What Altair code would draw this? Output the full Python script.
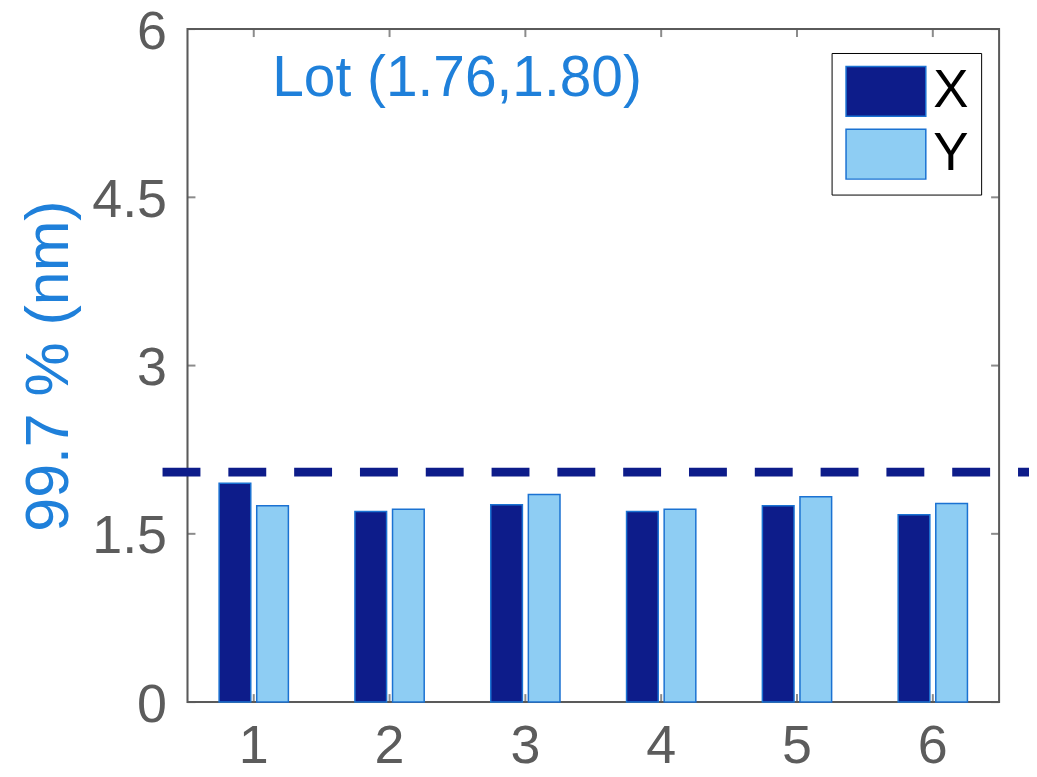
import altair as alt
import pandas as pd

categories = ["1", "2", "3", "4", "5", "6"]
x_values = [1.95, 1.70, 1.76, 1.70, 1.75, 1.67]
y_values = [1.75, 1.72, 1.85, 1.72, 1.83, 1.77]
series_names = ["X", "Y"]
limit_value = 2.05
y_ticks = [0, 1.5, 3, 4.5, 6]
annotation = "Lot (1.76,1.80)"
y_title = "99.7 % (nm)"

rows = []
for c, xv, yv in zip(categories, x_values, y_values):
    rows.append({"cat": c, "series": "X", "value": xv})
    rows.append({"cat": c, "series": "Y", "value": yv})
df = pd.DataFrame(rows)

FONT = "Liberation Sans"
NAVY = "#0d1c8a"
LIGHT = "#8ecdf3"
EDGE = "#1b72d2"
BLUE_TXT = "#1f80da"
GRAY = "#5c5c5c"
BOX = "#5a5a5a"
W, H = 814, 675

xscale = alt.Scale(domain=categories, paddingInner=0.49, paddingOuter=0.233)
yscale = alt.Scale(domain=[0, 6], nice=False)

frame = alt.Chart(pd.DataFrame({"f": [0]})).mark_rect(
    fill="white", fillOpacity=0, stroke=BOX, strokeWidth=2
).encode(x=alt.value(0), x2=alt.value(W), y=alt.value(0), y2=alt.value(H))

bars = alt.Chart(df).mark_bar(stroke=EDGE, strokeWidth=1.5).encode(
    x=alt.X("cat:N", scale=xscale, sort=categories,
            axis=alt.Axis(title=None, labelAngle=0, labelFontSize=54, labelFont=FONT,
                          labelColor=GRAY, ticks=False, domain=False, labelPadding=18)),
    xOffset=alt.XOffset("series:N", scale=alt.Scale(domain=series_names, paddingInner=0.158, paddingOuter=0)),
    y=alt.Y("value:Q", scale=yscale,
            axis=alt.Axis(title=y_title, values=y_ticks, format="~g", grid=False, ticks=False,
                          domain=False, labelFontSize=54, labelFont=FONT, labelColor=GRAY,
                          labelPadding=21, labelOffset=3, titleFontSize=61, titleFont=FONT,
                          titleColor=BLUE_TXT, titleFontWeight="normal", titleX=-138,
                          titleY=H / 2, titleBaseline="middle", titleAlign="center")),
    fill=alt.Fill("series:N", scale=alt.Scale(domain=series_names, range=[NAVY, LIGHT]),
                  legend=alt.Legend(title=None, orient="none", legendX=646, legendY=24,
                                    symbolType="M-1.6,-1L1.6,-1L1.6,1L-1.6,1Z",
                                    symbolSize=2500, symbolOffset=16, symbolStrokeWidth=1.5,
                                    symbolStrokeColor=EDGE, symbolOpacity=1,
                                    labelFontSize=53, labelFont=FONT, labelColor="black",
                                    labelOffset=21, rowPadding=6, padding=12,
                                    strokeColor="black", fillColor="white")),
)

limit_df = pd.DataFrame({"limit": [limit_value]})
limit = alt.Chart(limit_df).mark_rule(color=NAVY, strokeWidth=9, strokeDash=[38, 28]).encode(
    y=alt.Y("limit:Q", scale=yscale),
    x=alt.value(-25),
    x2=alt.value(W + 40),
)

ann_df = pd.DataFrame({"label": [annotation], "ypos": [5.40]})
ann = alt.Chart(ann_df).mark_text(align="left", baseline="alphabetic", fontSize=57,
                                  font=FONT, color=BLUE_TXT).encode(
    text="label:N",
    x=alt.value(85),
    y=alt.Y("ypos:Q", scale=yscale),
)

yt_df = pd.DataFrame({"t": y_ticks})
ytick_l = alt.Chart(yt_df).mark_tick(orient="horizontal", size=8, thickness=2, color=BOX).encode(
    y=alt.Y("t:Q", scale=yscale), x=alt.value(4))
ytick_r = alt.Chart(yt_df).mark_tick(orient="horizontal", size=8, thickness=2, color=BOX).encode(
    y=alt.Y("t:Q", scale=yscale), x=alt.value(W - 4))
xt_df = pd.DataFrame({"c": categories})
xtick_b = alt.Chart(xt_df).mark_tick(orient="vertical", size=8, thickness=2, color=BOX).encode(
    x=alt.X("c:N", scale=xscale, sort=categories), y=alt.value(H - 4))
xtick_t = alt.Chart(xt_df).mark_tick(orient="vertical", size=8, thickness=2, color=BOX).encode(
    x=alt.X("c:N", scale=xscale, sort=categories), y=alt.value(4))

chart = alt.layer(frame, bars, limit, ann, ytick_l, ytick_r, xtick_b, xtick_t).properties(
    width=W, height=H,
    autosize=alt.AutoSizeParams(type="none"),
    padding={"left": 180, "top": 20, "right": 30, "bottom": 72},
).configure_view(
    stroke=BOX, strokeWidth=2, strokeOpacity=1
).configure_legend(strokeWidth=2).configure(background="white")

chart.save("out.html", embed_options={"renderer": "svg", "actions": False})
